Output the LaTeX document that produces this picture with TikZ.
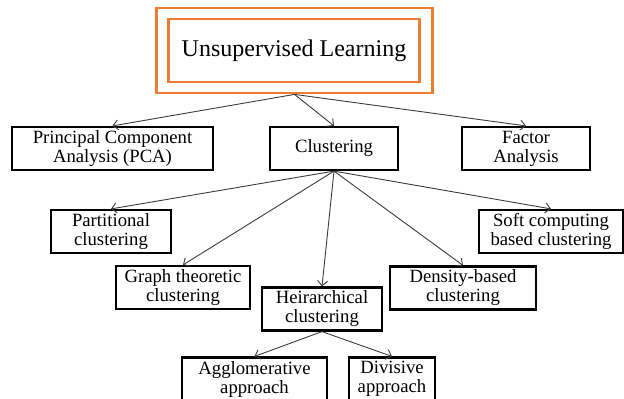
\documentclass[tikz,border=0pt]{standalone}
\usepackage{fontspec}
\setmainfont{Liberation Serif}
\usetikzlibrary{arrows.meta}
\definecolor{ulorange}{RGB}{237,125,49}
\definecolor{linkgray}{RGB}{60,60,60}
\begin{document}
\begin{tikzpicture}[
    x=1pt, y=-1pt,
    topbox/.style={rectangle, draw=ulorange, line width=2.8pt, inner sep=0pt, font=\fontsize{24}{28}\selectfont},
    method/.style={rectangle, draw, line width=2.2pt, align=center, inner sep=0pt, minimum height=43pt, font=\fontsize{18.7}{19}\selectfont},
    link/.style={-{Straight Barb[length=5pt, width=10pt]}, linkgray, line width=0.9pt}
]
\useasboundingbox (0,0) rectangle (624,399);

% Unsupervised learning (double frame)
\node[topbox, minimum width=276pt, minimum height=85pt] (ulframe) at (294.5,50.5) {};
\node[topbox, minimum width=251pt, minimum height=63pt] (ul) at (294,50.5) {Unsupervised Learning};

% First level
\node[method, minimum width=201pt] (pca) at (112.5,148.5) {Principal Component\\Analysis (PCA)};
\node[method, minimum width=128pt] (clust) at (334,148.5) {Clustering};
\node[method, minimum width=128pt] (factor) at (526,148.5) {Factor\\Analysis};

% Clustering methods
\node[method, minimum width=120pt] (part) at (111,231.5) {Partitional\\clustering};
\node[method, minimum width=144pt] (soft) at (551,231.5) {Soft computing\\based clustering};
\node[method, minimum width=134pt] (graph) at (183,287.5) {Graph theoretic\\clustering};
\node[method, minimum width=146pt] (dens) at (463,288) {Density-based\\clustering};
\node[method, minimum width=120pt] (hier) at (322,309) {Heirarchical\\clustering};

% Hierarchical approaches
\node[method, minimum width=145pt] (aggl) at (254.5,379) {Agglomerative\\approach};
\node[method, minimum width=86pt] (divis) at (392,379) {Divisive\\approach};

% Arrows
\draw[link] (ulframe.south) -- (pca.north);
\draw[link] (ulframe.south) -- (clust.north);
\draw[link] (ulframe.south) -- (factor.north);
\draw[link] (clust.south) -- (part.north);
\draw[link] (clust.south) -- (graph.north);
\draw[link] (clust.south) -- (hier.north);
\draw[link] (clust.south) -- (dens.north);
\draw[link] (clust.south) -- (soft.north);
\draw[link] (hier.south) -- (aggl.north);
\draw[link] (hier.south) -- (divis.north);

\end{tikzpicture}
\end{document}
